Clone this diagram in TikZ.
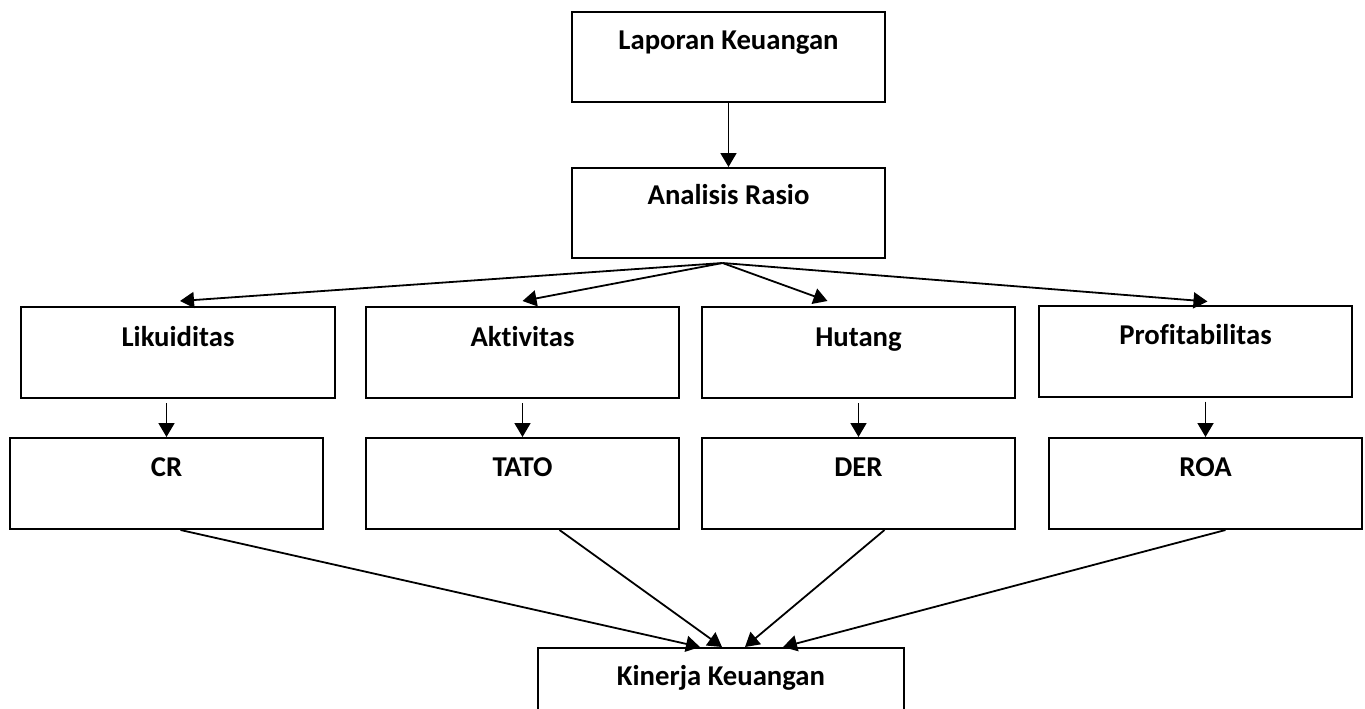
\documentclass[tikz,border=0pt]{standalone}
\usepackage{fontspec}
\setmainfont{Carlito}[Ligatures=NoCommon]
\usetikzlibrary{arrows.meta}
\begin{document}
\begin{tikzpicture}[x=1pt,y=-1pt,
  box/.style={draw=black,line width=2pt,fill=none,inner sep=0pt},
  lbl/.style={inner sep=0pt,anchor=base,font=\fontsize{28.7}{30}\selectfont\bfseries},
  arr/.style={line width=1.8pt,-{Triangle[length=14pt,width=16pt]}}]
\useasboundingbox[fill=white] (0,0) rectangle (1365,709);
% boxes
\node[box,minimum width=313pt,minimum height=90pt] (lap) at (728.5,57) {};
\node[box,minimum width=313pt,minimum height=90pt] (ana) at (728.5,213) {};
\node[box,minimum width=314pt,minimum height=91pt] (lik) at (178,352.5) {};
\node[box,minimum width=313pt,minimum height=91pt] (akt) at (522.5,352.5) {};
\node[box,minimum width=313pt,minimum height=91pt] (hut) at (858.5,352.5) {};
\node[box,minimum width=313pt,minimum height=91pt] (pro) at (1195.5,351) {};
\node[box,minimum width=313pt,minimum height=91pt] (cr) at (166.5,483.5) {};
\node[box,minimum width=313pt,minimum height=91pt] (tato) at (522.5,483.5) {};
\node[box,minimum width=313pt,minimum height=91pt] (der) at (858.5,483.5) {};
\node[box,minimum width=313pt,minimum height=91pt] (roa) at (1205.5,483.5) {};
\node[box,minimum width=366pt,minimum height=92pt] (kin) at (721,694) {};
% labels
\node[lbl] (tlap) at (728.5,50) {Laporan Keuangan};
\node[lbl] (tana) at (728.5,204) {Analisis Rasio};
\node[lbl] (tlik) at (178,346) {Likuiditas};
\node[lbl] (takt) at (522.5,346) {Aktivitas};
\node[lbl] (thut) at (858.5,346) {Hutang};
\node[lbl] (tpro) at (1195.5,344) {Profitabilitas};
\node[lbl] (tcr) at (166.5,476) {CR};
\node[lbl] (ttato) at (522.5,476) {TATO};
\node[lbl] (tder) at (858.5,476) {DER};
\node[lbl] (troa) at (1205.5,476) {ROA};
\node[lbl] (tkin) at (721,685) {Kinerja Keuangan};
% arrows
\draw[arr] (lap.south) -- (ana.north);
\coordinate (fan) at ([xshift=-6pt,yshift=-4pt]ana.south);
\draw[arr] (fan) -- ([xshift=2pt,yshift=5pt]lik.north);
\draw[arr] (fan) -- ([yshift=5pt]akt.north);
\draw[arr] (fan) -- ([xshift=-31pt,yshift=5pt]hut.north);
\draw[arr] (fan) -- ([xshift=12pt,yshift=3pt]pro.north);
\draw[arr] ([yshift=-4pt]lik.south -| cr.north) -- (cr.north);
\draw[arr] ([yshift=-4pt]akt.south -| tato.north) -- (tato.north);
\draw[arr] ([yshift=-4pt]hut.south -| der.north) -- (der.north);
\draw[arr] ([yshift=-4pt]pro.south -| roa.north) -- (roa.north);
\draw[arr] ([xshift=14pt]cr.south) -- ([xshift=-21pt]kin.north);
\draw[arr] ([xshift=37pt]tato.south) -- ([xshift=1pt]kin.north);
\draw[arr] ([xshift=26pt]der.south) -- ([xshift=24pt]kin.north);
\draw[arr] ([xshift=20pt]roa.south) -- ([xshift=62pt]kin.north);
\end{tikzpicture}
\end{document}
